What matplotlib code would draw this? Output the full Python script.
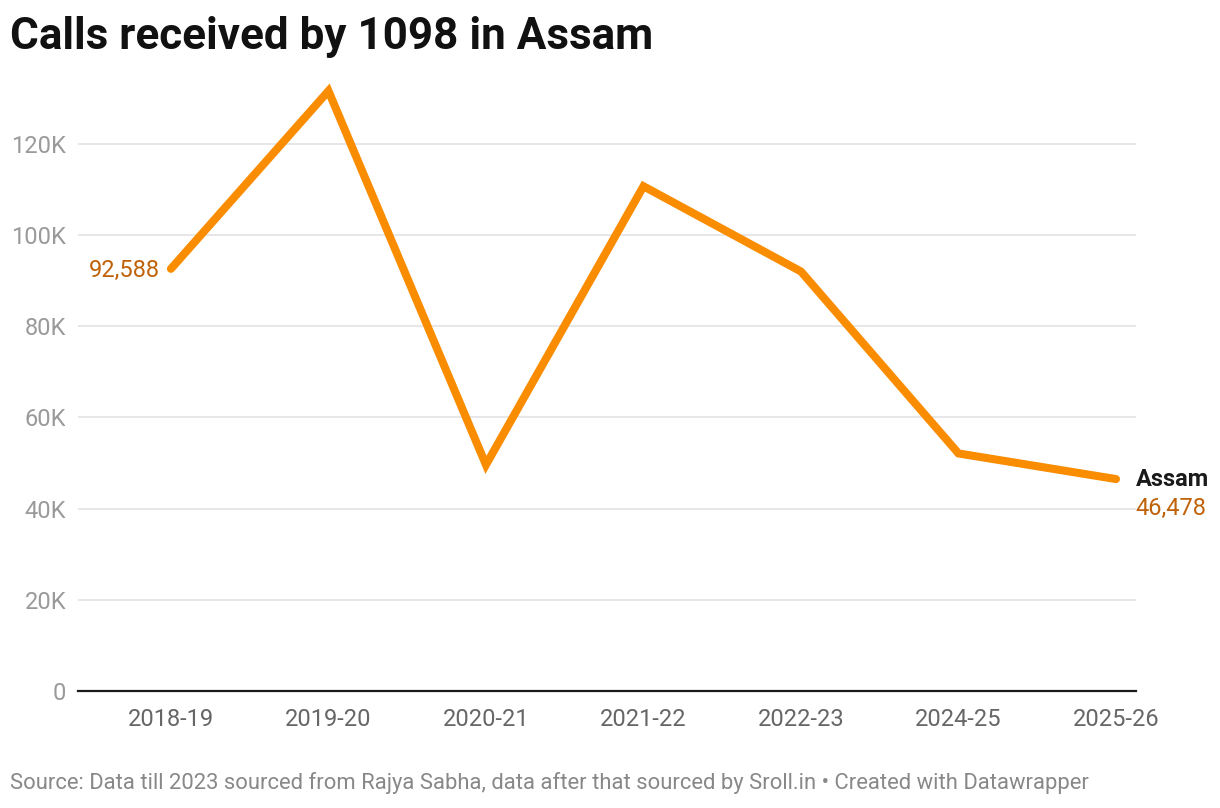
import matplotlib
matplotlib.use("Agg")
import matplotlib.pyplot as plt
from matplotlib.ticker import FuncFormatter

years = ["2018-19", "2019-20", "2020-21", "2021-22", "2022-23", "2024-25", "2025-26"]
calls = [92588, 131600, 49600, 110700, 92000, 52100, 46478]
yticks = [0, 20000, 40000, 60000, 80000, 100000, 120000]

plt.rcParams['font.family'] = ['Roboto', 'DejaVu Sans']

W, H = 1220, 808
fig = plt.figure(figsize=(W / 100, H / 100), dpi=100)
left, right, bottom, top = 78, 1136, 691, 80
ax = fig.add_axes([left / W, 1 - bottom / H, (right - left) / W, (bottom - top) / H])

x = list(range(len(years)))
orange = "#fa8c00"
ax.plot(x, calls, color=orange, lw=5.8, solid_capstyle="round", solid_joinstyle="miter", zorder=3)

ax.set_xlim(-0.59, 6.127)
ax.set_ylim(0, 134000)
ax.set_yticks(yticks)
ax.yaxis.set_major_formatter(FuncFormatter(lambda v, p: "0" if v == 0 else f"{int(v/1000)}K"))
ax.set_xticks(x)
ax.set_xticklabels(years)
ax.grid(axis="y", color="#e3e3e3", lw=1.2)
ax.set_axisbelow(True)
for s in ["top", "right", "left"]:
    ax.spines[s].set_visible(False)
ax.spines["bottom"].set_color("#1a1a1a")
ax.spines["bottom"].set_linewidth(1.6)
ax.spines["bottom"].set_zorder(4)
ax.tick_params(axis="y", length=0, pad=8.6, labelsize=17, labelcolor="#9a9a9a")
ax.tick_params(axis="x", length=0, pad=12, labelsize=17, labelcolor="#666666")

lab = "#c0620a"
ax.annotate(f"{calls[0]:,}", (x[0], calls[0]), xytext=(-8, -1), textcoords="offset points",
            ha="right", va="center", fontsize=17, color=lab)
ax.annotate("Assam", (x[-1], calls[-1]), xytext=(14, 0), textcoords="offset points",
            ha="left", va="center", fontsize=17, color="#1a1a1a", fontweight="bold",
            annotation_clip=False)
ax.annotate(f"{calls[-1]:,}", (x[-1], calls[-1]), xytext=(14, -21), textcoords="offset points",
            ha="left", va="center", fontsize=17, color=lab, annotation_clip=False)

fig.text(10 / W, 1 - 37 / H, "Calls received by 1098 in Assam", fontsize=31.7, fontweight="bold",
         color="#111111", ha="left", va="center")
fig.text(10 / W, 1 - 783 / H,
         "Source: Data till 2023 sourced from Rajya Sabha, data after that sourced by Sroll.in \u2022 Created with Datawrapper",
         fontsize=15.8, color="#888888", ha="left", va="center")

fig.savefig("out.png", dpi=100)
